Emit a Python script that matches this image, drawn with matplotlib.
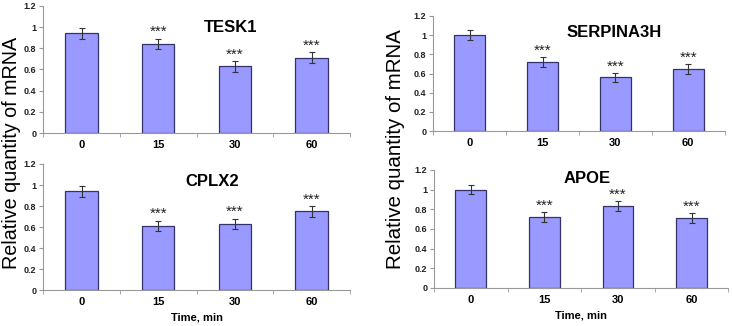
import numpy as np
import matplotlib.pyplot as plt

times = ["0", "15", "30", "60"]
genes = ["TESK1", "SERPINA3H", "CPLX2", "APOE"]
tesk1 = [0.94, 0.84, 0.63, 0.71]
tesk1_err = [0.05, 0.05, 0.05, 0.05]
serpina3h = [1.00, 0.72, 0.56, 0.65]
serpina3h_err = [0.05, 0.05, 0.045, 0.05]
cplx2 = [0.94, 0.61, 0.63, 0.75]
cplx2_err = [0.05, 0.05, 0.05, 0.05]
apoe = [1.00, 0.72, 0.83, 0.71]
apoe_err = [0.05, 0.05, 0.05, 0.05]
stars = ["", "***", "***", "***"]

fig = plt.figure(figsize=(7.32, 3.26), dpi=100)
plt.rcParams['font.family'] = ['Liberation Sans', 'DejaVu Sans']

# panel rectangles [left, bottom, width, height]
rects = [
    [0.059, 0.592, 0.419, 0.390],
    [0.592, 0.598, 0.398, 0.353],
    [0.059, 0.110, 0.419, 0.387],
    [0.593, 0.117, 0.402, 0.362],
]
title_pos = [(0.61, 0.83), (0.62, 0.86), (0.55, 0.86), (0.52, 0.93)]
data = [(tesk1, tesk1_err), (serpina3h, serpina3h_err),
        (cplx2, cplx2_err), (apoe, apoe_err)]

x = np.arange(len(times))
for i, (rect, gene, (vals, errs)) in enumerate(zip(rects, genes, data)):
    ax = fig.add_axes(rect)
    ax.bar(x, vals, width=0.42, color="#9999ff", edgecolor="#33336a",
           linewidth=0.9, yerr=errs, capsize=2.5,
           error_kw=dict(ecolor="#333333", elinewidth=0.8, capthick=0.8))
    for xi, v, e, s in zip(x, vals, errs, stars):
        if s:
            ax.text(xi, v + e - 0.005, s, ha="center", va="bottom",
                    fontsize=11, color="#222222")
    ax.set_xlim(-0.5, 3.5)
    ax.set_ylim(0, 1.2)
    ax.set_yticks([0, 0.2, 0.4, 0.6, 0.8, 1.0, 1.2])
    ax.set_yticklabels(["0", "0.2", "0.4", "0.6", "0.8", "1", "1.2"],
                       fontsize=6.5, fontweight="bold", color="#222222")
    ax.set_xticks(x)
    ax.set_xticklabels(times, fontsize=8, fontweight="bold")
    ax.set_xticks(np.arange(-0.5, 4, 1), minor=True)
    ax.tick_params(axis="x", which="major", length=0, pad=5)
    ax.tick_params(axis="x", which="minor", length=3, color="#999999")
    ax.tick_params(axis="y", length=3, color="#999999", pad=2)
    for side in ["top", "right"]:
        ax.spines[side].set_visible(False)
    for side in ["left", "bottom"]:
        ax.spines[side].set_color("#999999")
        ax.spines[side].set_linewidth(0.8)
    ax.text(title_pos[i][0], title_pos[i][1], gene, transform=ax.transAxes,
            ha="center", va="center", fontsize=12, fontweight="bold")
    if i >= 2:
        ax.set_xlabel("Time, min", fontsize=8, fontweight="bold", labelpad=4)

fig.text(0.016, 0.53, "Relative quantity of mRNA", rotation=90,
         ha="center", va="center", fontsize=14.2)
fig.text(0.54, 0.544, "Relative quantity of mRNA", rotation=90,
         ha="center", va="center", fontsize=14.8)

fig.savefig("out.png", dpi=100)
